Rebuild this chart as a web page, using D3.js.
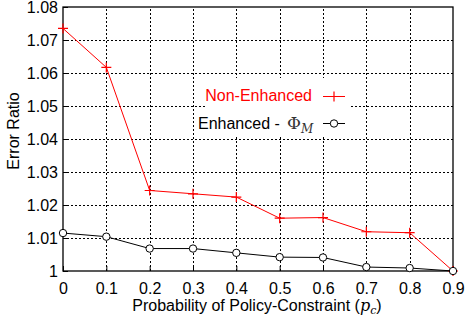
<!DOCTYPE html>
<html>
<head>
<meta charset="utf-8">
<script src="https://cdn.jsdelivr.net/npm/d3@7"></script>
<style>
  body { margin: 0; background: #fff; }
  text { font-family: "Liberation Sans", Arial, sans-serif; }
</style>
</head>
<body>
<svg id="chart" width="465" height="323"></svg>
<script>
const probs = [0, 0.1, 0.2, 0.3, 0.4, 0.5, 0.6, 0.7, 0.8, 0.9]
const nonEnhanced = [1.0735, 1.0617, 1.0244, 1.0234, 1.0224, 1.0160, 1.0162, 1.0119, 1.0116, 1.0000]
const enhanced = [1.0115, 1.0104, 1.0068, 1.0068, 1.0055, 1.0042, 1.0041, 1.0012, 1.0009, 1.0000]
const xTicks = [0, 0.1, 0.2, 0.3, 0.4, 0.5, 0.6, 0.7, 0.8, 0.9]
const yTicks = [1, 1.01, 1.02, 1.03, 1.04, 1.05, 1.06, 1.07, 1.08]

const m = { left: 63, right: 12, top: 7, bottom: 52 }
const W = 465, H = 323
const FS = 16
const svg = d3.select('#chart')

const x = d3.scaleLinear().domain([0, 0.9]).range([m.left, W - m.right])
const y = d3.scaleLinear().domain([1, 1.08]).range([H - m.bottom, m.top])

// grid
const grid = svg.append('g')
	.attr('stroke', '#000')
	.attr('stroke-width', 1)
	.attr('stroke-dasharray', '2,2')
grid.selectAll('.gx').data(xTicks.slice(1, -1)).join('line')
	.attr('x1', d => Math.round(x(d)) + 0.5).attr('x2', d => Math.round(x(d)) + 0.5)
	.attr('y1', y(1)).attr('y2', y(1.08))
grid.selectAll('.gy').data(yTicks.slice(1, -1)).join('line')
	.attr('y1', d => Math.round(y(d)) + 0.5).attr('y2', d => Math.round(y(d)) + 0.5)
	.attr('x1', x(0)).attr('x2', x(0.9))

// legend box hides grid underneath
svg.append('rect')
	.attr('x', 207).attr('y', 78).attr('width', 142).attr('height', 59)
	.attr('fill', '#fff')

// axes (ticks inside)
const xAxis = d3.axisBottom(x).tickValues(xTicks).tickSize(-5).tickPadding(12)
	.tickFormat(d => d === 0 ? '0' : d3.format('.1f')(d))
const yAxis = d3.axisLeft(y).tickValues(yTicks).tickSize(-5).tickPadding(5)
	.tickFormat(d => d === 1 ? '1' : d3.format('.2f')(d))

const gx = svg.append('g').attr('transform', `translate(0,${y(1)})`).call(xAxis)
const gy = svg.append('g').attr('transform', `translate(${x(0)},0)`).call(yAxis)
for (const g of [gx, gy]) {
	g.select('.domain').remove()
	g.selectAll('text').attr('font-size', FS).attr('fill', '#000')
		.style('font-family', '"Liberation Sans", Arial, sans-serif')
}

svg.append('rect')
	.attr('x', x(0)).attr('y', y(1.08))
	.attr('width', x(0.9) - x(0)).attr('height', y(1) - y(1.08))
	.attr('fill', 'none').attr('stroke', '#000').attr('stroke-width', 1.3)

// axis titles
svg.append('text')
	.attr('x', 257).attr('y', 311)
	.attr('text-anchor', 'middle').attr('font-size', FS)
	.html('Probability of Policy-Constraint (<tspan font-family="DejaVu Serif" font-style="italic">p</tspan><tspan font-family="DejaVu Serif" font-style="italic" font-size="11" dy="3">c</tspan><tspan dy="-3">)</tspan>')
svg.append('text')
	.attr('transform', 'translate(19,131) rotate(-90)')
	.attr('text-anchor', 'middle').attr('font-size', FS)
	.text('Error Ratio')

// series
const line = d3.line().x((d, i) => x(probs[i])).y(d => y(d))

svg.append('path').datum(nonEnhanced)
	.attr('d', line).attr('fill', 'none').attr('stroke', '#f00').attr('stroke-width', 1)
svg.append('g').selectAll('path').data(nonEnhanced).join('path')
	.attr('d', (d, i) => `M${x(probs[i]) - 5},${y(d)}h10M${x(probs[i])},${y(d) - 5}v10`)
	.attr('stroke', '#f00').attr('stroke-width', 1.2)

svg.append('path').datum(enhanced)
	.attr('d', line).attr('fill', 'none').attr('stroke', '#000').attr('stroke-width', 1)
svg.append('g').selectAll('circle').data(enhanced).join('circle')
	.attr('cx', (d, i) => x(probs[i])).attr('cy', d => y(d)).attr('r', 3.7)
	.attr('fill', '#fff').attr('stroke', '#000').attr('stroke-width', 1)

// legend
svg.append('text').attr('x', 312).attr('y', 101).attr('text-anchor', 'end')
	.attr('font-size', FS).attr('fill', '#f00').text('Non-Enhanced')
svg.append('path').attr('d', 'M323,96.5h22M334,91.5v10')
	.attr('stroke', '#f00').attr('stroke-width', 1.2)

svg.append('text').attr('x', 198).attr('y', 129)
	.attr('font-size', FS).attr('fill', '#000').text('Enhanced -')
svg.append('text').attr('x', 287).attr('y', 129)
	.attr('font-size', 17).attr('fill', '#333')
	.html('<tspan font-family="DejaVu Serif">Φ</tspan><tspan font-family="DejaVu Serif" font-style="italic" font-size="12" dy="4">M</tspan>')
svg.append('line').attr('x1', 323).attr('x2', 345).attr('y1', 123.5).attr('y2', 123.5)
	.attr('stroke', '#000')
svg.append('circle').attr('cx', 334).attr('cy', 123.5).attr('r', 3.7)
	.attr('fill', '#fff').attr('stroke', '#000')
</script>
</body>
</html>
